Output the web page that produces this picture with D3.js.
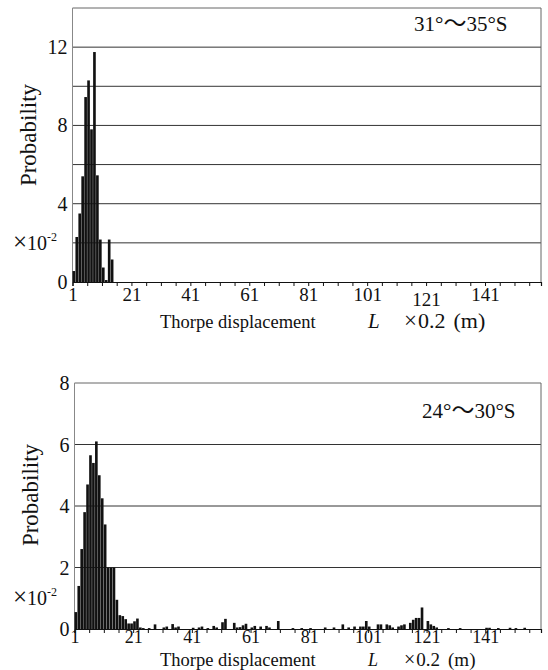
<!DOCTYPE html>
<html>
<head>
<meta charset="utf-8">
<script src="https://cdn.jsdelivr.net/npm/d3@7"></script>
<style>
  html, body { margin: 0; padding: 0; background: #fff; }
  svg { display: block; }
  text { font-family: "Liberation Serif", "Times New Roman", serif; fill: #111; }
</style>
</head>
<body>
<svg id="chart" width="548" height="670"></svg>
<script>
// ---- data ----
const topTitle = ["31°", "～", "35°S"];
const bottomTitle = ["24°", "～", "30°S"];
const xTickLabels = [1, 21, 41, 61, 81, 101, 121, 141];
const topYTickLabels = [0, 4, 8, 12];
const bottomYTickLabels = [0, 2, 4, 6, 8];

// Top panel (31°–35°S): displacement bin (×0.2 m) and probability (×10^-2)
const topBins = [1, 2, 3, 4, 5, 6, 7, 8, 9, 10, 11, 12, 13, 14];
const topProb = [0.56, 2.3, 3.5, 5.4, 9.45, 10.3, 7.8, 11.75, 5.45, 2.17, 0.74, 0.1, 2.17, 1.15];

// Bottom panel (24°–30°S)
const bottomBins = [1, 2, 3, 4, 5, 6, 7, 8, 9, 10, 11, 12, 13, 14, 15, 16, 17, 18, 19, 20,
  21, 22, 23, 24, 26, 28, 31, 32, 34, 35, 36, 41, 43, 44, 46, 48, 49, 51, 52, 55,
  56, 57, 58, 59, 61, 62, 64, 66, 67, 70, 75, 78, 81, 86, 89, 92, 94, 96, 98, 99,
  100, 101, 104, 105, 107, 108, 109, 111, 112, 113, 115, 116, 117, 118, 119, 121, 122, 123, 124, 128,
  132, 141, 142, 145, 149, 151, 154];
const bottomProb = [0.55, 1.4, 2.6, 3.8, 4.7, 5.65, 5.4, 6.1, 5.0, 4.25, 3.4, 2.0, 2.0, 2.0, 0.95, 0.45, 0.42, 0.32, 0.18, 0.18,
  0.25, 0.34, 0.05, 0.03, 0.03, 0.15, 0.05, 0.08, 0.16, 0.05, 0.08, 0.04, 0.05, 0.08, 0.03, 0.1, 0.05, 0.22, 0.33, 0.2,
  0.05, 0.06, 0.12, 0.17, 0.05, 0.1, 0.08, 0.1, 0.05, 0.26, 0.03, 0.03, 0.03, 0.05, 0.05, 0.15, 0.05, 0.08, 0.08, 0.08,
  0.26, 0.08, 0.15, 0.15, 0.15, 0.12, 0.05, 0.08, 0.12, 0.15, 0.2, 0.3, 0.36, 0.36, 0.7, 0.26, 0.15, 0.1, 0.05, 0.03,
  0.03, 0.04, 0.04, 0.03, 0.04, 0.03, 0.04];

// ---- drawing ----
const svg = d3.select("#chart");

function panel(cfg) {
  const g = svg.append("g");
  const x = d3.scaleLinear().domain([1, 160]).range([cfg.left, cfg.right]);
  const y = d3.scaleLinear().domain([0, cfg.ymax]).range([cfg.bottom, cfg.top]);

  // gridlines
  const grid = d3.range(cfg.gridStep, cfg.ymax, cfg.gridStep);
  g.selectAll("line.grid").data(grid).enter().append("line")
    .attr("x1", cfg.left).attr("x2", cfg.right)
    .attr("y1", d => y(d)).attr("y2", d => y(d))
    .attr("stroke", "#333").attr("stroke-width", 1);

  // frame: top, right, left
  g.append("line").attr("x1", cfg.left).attr("x2", cfg.right).attr("y1", cfg.top).attr("y2", cfg.top)
    .attr("stroke", "#666").attr("stroke-width", 1);
  g.append("line").attr("x1", cfg.right).attr("x2", cfg.right).attr("y1", cfg.top).attr("y2", cfg.bottom)
    .attr("stroke", "#666").attr("stroke-width", 1);
  g.append("line").attr("x1", cfg.left).attr("x2", cfg.left).attr("y1", cfg.top).attr("y2", cfg.bottom)
    .attr("stroke", "#888").attr("stroke-width", 1);

  // bars
  const data = cfg.bins.map((b, i) => ({ b: b, v: cfg.vals[i] }));
  g.selectAll("rect.bar").data(data).enter().append("rect")
    .attr("x", d => x(d.b))
    .attr("width", d => Math.max(0.8, x(d.b + 1) - x(d.b) - 0.3))
    .attr("y", d => y(d.v))
    .attr("height", d => cfg.bottom - y(d.v))
    .attr("fill", "#111");

  // x axis
  const xAxis = d3.axisBottom(x)
    .tickValues(d3.range(1, 160, 5))
    .tickSize(4)
    .tickFormat(d => xTickLabels.includes(d) ? d : "");
  const ax = g.append("g").attr("transform", `translate(0,${cfg.bottom})`).call(xAxis);
  ax.select(".domain").attr("stroke", "#111").attr("stroke-width", 1.2);
  ax.selectAll(".tick line").attr("stroke", "#111");
  ax.selectAll(".tick text")
    .attr("font-family", "Liberation Serif, serif")
    .attr("font-size", cfg.tickFont).attr("fill", "#111")
    .attr("dy", d => (cfg.lowTick === d ? "1.0em" : "0.72em"))
    .attr("y", cfg.tickLabelY);

  // y tick labels
  g.selectAll("text.ylab").data(cfg.yLabels).enter().append("text")
    .attr("x", cfg.left - 5).attr("y", d => y(d))
    .attr("dy", "0.35em")
    .attr("text-anchor", "end")
    .attr("font-size", 20)
    .text(d => d);

  // ×10^-2
  const sc = g.append("text").attr("x", 13).attr("y", y(cfg.sciAt) + 7).attr("font-size", 20);
  sc.append("tspan").attr("font-size", 25).text("×");
  sc.append("tspan").text("10");
  sc.append("tspan").attr("dy", -9).attr("font-size", 12).text("-2");

  // y axis title
  g.append("text")
    .attr("transform", `translate(${cfg.left - 37},${cfg.ytitleY}) rotate(-90)`)
    .attr("text-anchor", "middle")
    .attr("font-size", 23)
    .text("Probability");

  // x axis title
  const f = cfg.xtitleFont;
  const xt = g.append("text").attr("y", cfg.bottom + cfg.xtitleDy).attr("font-size", 18.5);
  xt.append("tspan").attr("x", 160).text("Thorpe displacement");
  xt.append("tspan").attr("x", 368).attr("font-style", "italic").attr("font-size", f - 1).text("L");
  xt.append("tspan").attr("x", 404).attr("font-size", f + 1).text("×");
  xt.append("tspan").attr("dx", 1).attr("font-size", f).text("0.2");
  xt.append("tspan").attr("dx", 8).attr("font-size", f).text("(m)");

  // panel title
  const t = g.append("text")
    .attr("x", cfg.titleX).attr("y", cfg.titleY)
    .attr("font-size", 21);
  t.append("tspan").text(cfg.title[0]);
  t.append("tspan").attr("font-family", "Noto Sans CJK JP, sans-serif").attr("font-size", 23).text(cfg.title[1]);
  t.append("tspan").text(cfg.title[2]);
}

panel({
  left: 72.5, right: 541, top: 8, bottom: 282, ymax: 14, gridStep: 2,
  bins: topBins, vals: topProb, yLabels: topYTickLabels, sciAt: 2,
  ytitleY: 135, title: topTitle, titleX: 414, titleY: 31, lowTick: 121,
  tickLabelY: 5, tickFont: 19, xtitleDy: 46, xtitleFont: 22
});

panel({
  left: 74.5, right: 541, top: 383, bottom: 629, ymax: 8, gridStep: 2,
  bins: bottomBins, vals: bottomProb, yLabels: bottomYTickLabels, sciAt: 1,
  ytitleY: 495, title: bottomTitle, titleX: 422, titleY: 418, lowTick: null,
  tickLabelY: 1, tickFont: 18, xtitleDy: 37, xtitleFont: 19
});
</script>
</body>
</html>
